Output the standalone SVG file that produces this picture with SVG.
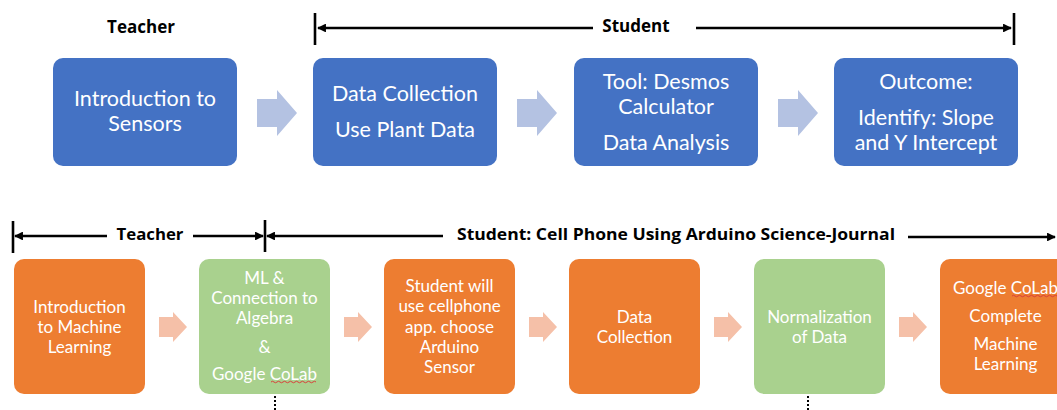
<svg xmlns="http://www.w3.org/2000/svg" width="1057" height="410" viewBox="0 0 1057 410">
<style>
.bg{fill:#ffffff}
.blue{fill:#4472C4}
.orange{fill:#ED7D31}
.green{fill:#A9D18E}
.barrow{fill:#B4C2E2}
.oarrow{fill:#F5C0A8}
.t{font-family:Lato,"Open Sans",sans-serif;fill:#ffffff;text-anchor:middle}
.tt{font-size:21.5px}
.tb{font-size:17px}
.lbl{font-family:"Open Sans",Lato,sans-serif;font-weight:bold;fill:#000000;text-anchor:middle}
.br{stroke:#000000;stroke-width:2.6;fill:none}
.dot{stroke:#000000;stroke-width:2;stroke-dasharray:2 2;fill:none}
.sq{stroke:#D9403A;stroke-width:1;fill:none}
</style>
<defs>
<marker id="ah" viewBox="0 0 10 10" refX="9" refY="5" markerWidth="4" markerHeight="3.4" orient="auto" markerUnits="strokeWidth">
<path d="M0,0 L10,5 L0,10 z" fill="#000000"/>
</marker>
</defs>
<rect class="bg" x="0" y="0" width="1057" height="410"/>

<g id="labels">
<text class="lbl" x="141" y="33" font-size="17">Teacher</text>
<text class="lbl" x="636" y="32" font-size="17">Student</text>
<text class="lbl" x="150" y="240" font-size="16.8">Teacher</text>
<text class="lbl" x="676" y="240" font-size="16.8" textLength="438" lengthAdjust="spacingAndGlyphs">Student: Cell Phone Using Arduino Science-Journal</text>
</g>

<g id="connectors">
<line class="br" x1="315" y1="13" x2="315" y2="45"/>
<line class="br" x1="593" y1="28" x2="318" y2="28" marker-end="url(#ah)"/>
<line class="br" x1="696" y1="28" x2="1011" y2="28" marker-end="url(#ah)"/>
<line class="br" x1="1014" y1="13" x2="1014" y2="45"/>

<line class="br" x1="13" y1="221" x2="13" y2="253"/>
<line class="br" x1="107" y1="236" x2="15" y2="236" marker-end="url(#ah)"/>
<line class="br" x1="193" y1="236" x2="263" y2="236" marker-end="url(#ah)"/>
<line class="br" x1="265" y1="220" x2="265" y2="252"/>
<line class="br" x1="443" y1="236" x2="267" y2="236" marker-end="url(#ah)"/>
<line class="br" x1="908" y1="237" x2="1055" y2="237" marker-end="url(#ah)"/>

<polygon class="barrow" points="257,99 277,99 277,90 297,113 277,136 277,127 257,127"/>
<polygon class="barrow" points="517,99 537,99 537,90 557,113 537,136 537,127 517,127"/>
<polygon class="barrow" points="778,99 798,99 798,90 818,113 798,136 798,127 778,127"/>

<polygon class="oarrow" points="159,317 173,317 173,312 187,327 173,342 173,337 159,337"/>
<polygon class="oarrow" points="344,317 358,317 358,312 372,327 358,342 358,337 344,337"/>
<polygon class="oarrow" points="529,317 543,317 543,312 557,327 543,342 543,337 529,337"/>
<polygon class="oarrow" points="714,317 728,317 728,312 742,327 728,342 728,337 714,337"/>
<polygon class="oarrow" points="899,317 913,317 913,312 927,327 913,342 913,337 899,337"/>

<line class="dot" x1="275" y1="396" x2="275" y2="410"/>
<line class="dot" x1="808" y1="396" x2="808" y2="410"/>
</g>

<g id="n1">
<rect class="blue" x="53" y="58" width="184" height="108" rx="10"/>
<text class="t tt" x="145" y="106">Introduction to</text>
<text class="t tt" x="145" y="131">Sensors</text>
</g>
<g id="n2">
<rect class="blue" x="313" y="58" width="184" height="108" rx="10"/>
<text class="t tt" x="405" y="101">Data Collection</text>
<text class="t tt" x="405" y="137">Use Plant Data</text>
</g>
<g id="n3">
<rect class="blue" x="574" y="58" width="184" height="108" rx="10"/>
<text class="t tt" x="666" y="89">Tool: Desmos</text>
<text class="t tt" x="666" y="114">Calculator</text>
<text class="t tt" x="666" y="150">Data Analysis</text>
</g>
<g id="n4">
<rect class="blue" x="834" y="58" width="184" height="108" rx="10"/>
<text class="t tt" x="926" y="89">Outcome:</text>
<text class="t tt" x="926" y="125">Identify: Slope</text>
<text class="t tt" x="926" y="150">and Y Intercept</text>
</g>

<g id="b1">
<rect class="orange" x="14" y="259" width="131" height="135" rx="10"/>
<text class="t tb" x="79.5" y="313">Introduction</text>
<text class="t tb" x="79.5" y="333">to Machine</text>
<text class="t tb" x="79.5" y="353">Learning</text>
</g>
<g id="b2">
<rect class="green" x="199" y="259" width="131" height="135" rx="10"/>
<text class="t tb" x="264.5" y="284">ML &amp;</text>
<text class="t tb" x="264.5" y="304">Connection to</text>
<text class="t tb" x="264.5" y="324">Algebra</text>
<text class="t tb" x="264.5" y="353">&amp;</text>
<text class="t tb" x="264.5" y="380">Google CoLab</text>
<path class="sq" d="M271,382 q1.5,-1.5 3,0 t3,0 t3,0 t3,0 t3,0 t3,0 t3,0 t3,0 t3,0 t3,0 t3,0 t3,0 t3,0 t3,0 t3,0"/>
</g>
<g id="b3">
<rect class="orange" x="384" y="259" width="131" height="135" rx="10"/>
<text class="t tb" x="449.5" y="292">Student will</text>
<text class="t tb" x="449.5" y="312">use cellphone</text>
<text class="t tb" x="449.5" y="333">app. choose</text>
<text class="t tb" x="449.5" y="353">Arduino</text>
<text class="t tb" x="449.5" y="373">Sensor</text>
</g>
<g id="b4">
<rect class="orange" x="569" y="259" width="131" height="135" rx="10"/>
<text class="t tb" x="634.5" y="323">Data</text>
<text class="t tb" x="634.5" y="343">Collection</text>
</g>
<g id="b5">
<rect class="green" x="754" y="259" width="131" height="135" rx="10"/>
<text class="t tb" x="819.5" y="323">Normalization</text>
<text class="t tb" x="819.5" y="343">of Data</text>
</g>
<g id="b6">
<rect class="orange" x="940" y="259" width="131" height="135" rx="10"/>
<text class="t tb" x="1005.5" y="294">Google CoLab</text>
<text class="t tb" x="1005.5" y="322">Complete</text>
<text class="t tb" x="1005.5" y="350">Machine</text>
<text class="t tb" x="1005.5" y="370">Learning</text>
<path class="sq" d="M1012,296 q1.5,-1.5 3,0 t3,0 t3,0 t3,0 t3,0 t3,0 t3,0 t3,0 t3,0 t3,0 t3,0 t3,0 t3,0 t3,0 t3,0"/>
</g>
</svg>
